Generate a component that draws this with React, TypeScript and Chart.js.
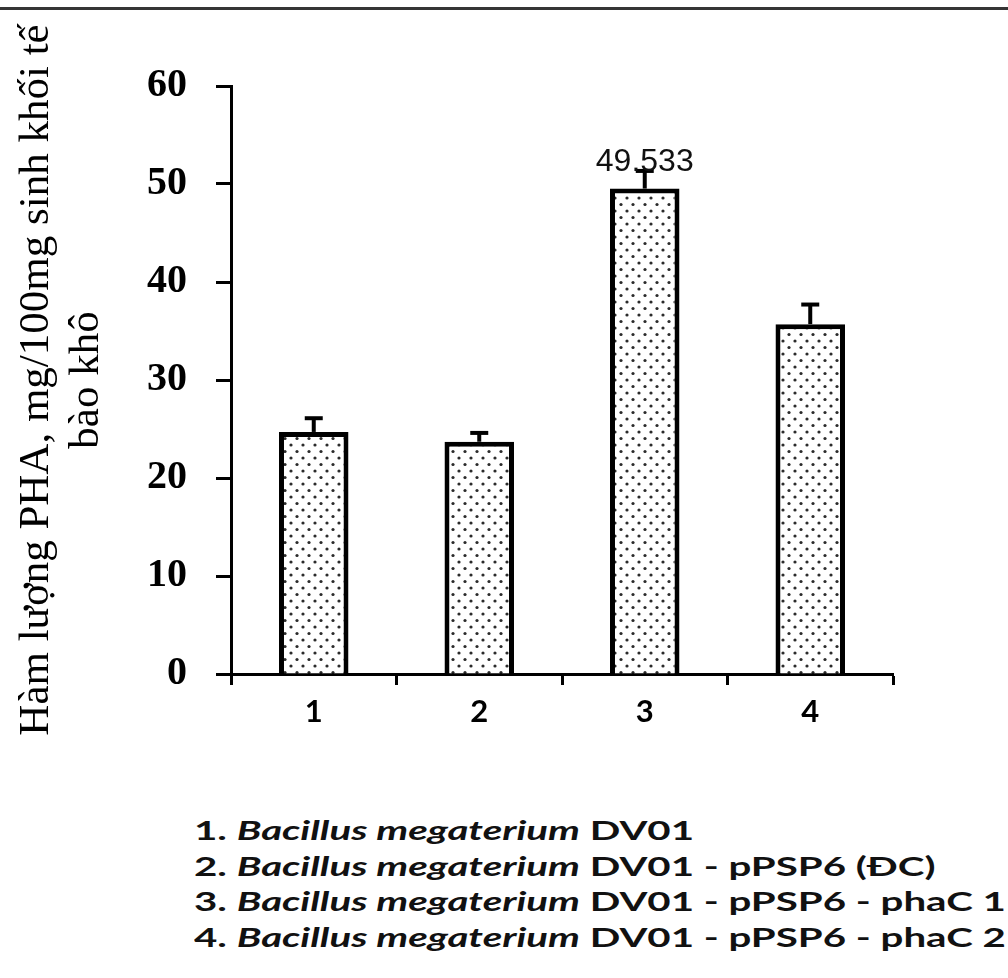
import React, { useEffect, useRef } from 'react';
import { Chart, registerables } from 'chart.js';

Chart.register(...registerables);

const categories = ['1', '2', '3', '4'];
const values = [24.7, 23.7, 49.533, 35.7];
const errors = [1.4, 0.9, 1.8, 2.0];
const yMin = 0;
const yMax = 60;
const yStep = 10;
const yTitle = ['Hàm lượng PHA, mg/100mg sinh khối tế', 'bào khô'];
const annotatedIndex = 2;
const legendNums = ['1.', '2.', '3.', '4.'];
const legendSpecies = ['Bacillus megaterium', 'Bacillus megaterium', 'Bacillus megaterium', 'Bacillus megaterium'];
const legendStrains = ['DV01', 'DV01 - pPSP6 (ĐC)', 'DV01 - pPSP6 - phaC 1', 'DV01 - pPSP6 - phaC 2'];

const SERIF = '"Liberation Serif", "Times New Roman", serif';

function makeDotPattern(ctx: CanvasRenderingContext2D) {
  const c = document.createElement('canvas');
  c.width = 12;
  c.height = 13;
  const p = c.getContext('2d')!;
  p.fillStyle = '#ffffff';
  p.fillRect(0, 0, 12, 13);
  p.fillStyle = '#2b2b2b';
  p.beginPath();
  p.arc(3, 3, 1.6, 0, Math.PI * 2);
  p.fill();
  p.beginPath();
  p.arc(9, 9.5, 1.6, 0, Math.PI * 2);
  p.fill();
  return ctx.createPattern(c, 'repeat');
}

const errorBarPlugin = {
  id: 'errorBarsAndLabel',
  afterDatasetsDraw(chart: any) {
    const { ctx } = chart;
    const y = chart.scales.y;
    const meta = chart.getDatasetMeta(0);
    ctx.save();
    ctx.strokeStyle = '#000';
    ctx.lineWidth = 4;
    ctx.lineCap = 'butt';
    meta.data.forEach((bar: any, i: number) => {
      const x = bar.x;
      const yBase = y.getPixelForValue(values[i]);
      const yTop = y.getPixelForValue(values[i] + errors[i]);
      ctx.beginPath();
      ctx.moveTo(x, yBase);
      ctx.lineTo(x, yTop);
      ctx.stroke();
      ctx.beginPath();
      ctx.moveTo(x - 9, yTop);
      ctx.lineTo(x + 9, yTop);
      ctx.stroke();
    });
    const bar = meta.data[annotatedIndex];
    ctx.font = '32px "Liberation Sans", Arial, sans-serif';
    ctx.fillStyle = '#111';
    ctx.textAlign = 'center';
    ctx.textBaseline = 'alphabetic';
    ctx.fillText(values[annotatedIndex].toFixed(3), bar.x, y.getPixelForValue(values[annotatedIndex]) - 18);
    ctx.restore();
  },
};

export default function App() {
  const canvasRef = useRef<HTMLCanvasElement | null>(null);

  useEffect(() => {
    const canvas = canvasRef.current;
    if (!canvas) return;
    const ctx = canvas.getContext('2d')!;
    const pattern = makeDotPattern(ctx);
    const chart = new Chart(canvas, {
      type: 'bar',
      data: {
        labels: categories,
        datasets: [
          {
            data: values,
            backgroundColor: pattern as any,
            borderColor: '#000',
            borderWidth: 5,
            barPercentage: 0.42,
            categoryPercentage: 1.0,
          },
        ],
      },
      options: {
        responsive: false,
        animation: false,
        devicePixelRatio: 1,
        layout: { padding: { top: 86, right: 115, bottom: 26, left: 0 } },
        plugins: {
          legend: { display: false },
          tooltip: { enabled: false },
        },
        scales: {
          x: {
            ticks: {
              color: '#000',
              font: { family: 'Lato, "Open Sans", sans-serif', size: 31, weight: 'bold' },
              padding: 8,
            },
            grid: {
              drawOnChartArea: false,
              offset: true,
              tickLength: 11,
              tickColor: '#000',
              tickWidth: 3,
            },
            border: { color: '#000', width: 3 },
            afterFit: (scale: any) => {
              scale.height = 80;
            },
          },
          y: {
            min: yMin,
            max: yMax,
            ticks: {
              stepSize: yStep,
              color: '#000',
              font: { family: SERIF, size: 40, weight: 'bold' },
              padding: 29,
            },
            grid: {
              drawOnChartArea: false,
              tickLength: 15,
              tickColor: '#000',
              tickWidth: 3,
            },
            border: { color: '#000', width: 3 },
            title: {
              display: true,
              text: yTitle,
              color: '#000',
              font: { family: SERIF, size: 43, lineHeight: 1.16 },
              padding: { top: 12, bottom: 0 },
            },
            afterFit: (scale: any) => {
              scale.width = 231;
            },
          },
        },
      },
      plugins: [errorBarPlugin],
    });
    return () => chart.destroy();
  }, []);

  return (
    <div
      style={{
        position: 'absolute',
        left: 0,
        top: 0,
        width: 1008,
        height: 978,
        background: '#fff',
        overflow: 'hidden',
      }}
    >
      <canvas
        ref={canvasRef}
        width={1008}
        height={780}
        style={{ position: 'absolute', left: 0, top: 0, width: 1008, height: 780 }}
      />
      <div
        style={{ position: 'absolute', left: 0, top: 7, width: 1008, height: 3, background: '#353535' }}
      />
      <div
        style={{
          position: 'absolute',
          left: 194,
          top: 812,
          fontFamily: 'Lato, "Open Sans", sans-serif',
          fontWeight: 'bold',
          fontSize: 27,
          lineHeight: '35.5px',
          color: '#111',
          whiteSpace: 'nowrap',
          transform: 'scaleX(1.49)',
          transformOrigin: '0 0',
        }}
      >
        {legendNums.map((n, i) => (
          <div key={i}>
            {n} <i>{legendSpecies[i]}</i> {legendStrains[i]}
          </div>
        ))}
      </div>
    </div>
  );
}
